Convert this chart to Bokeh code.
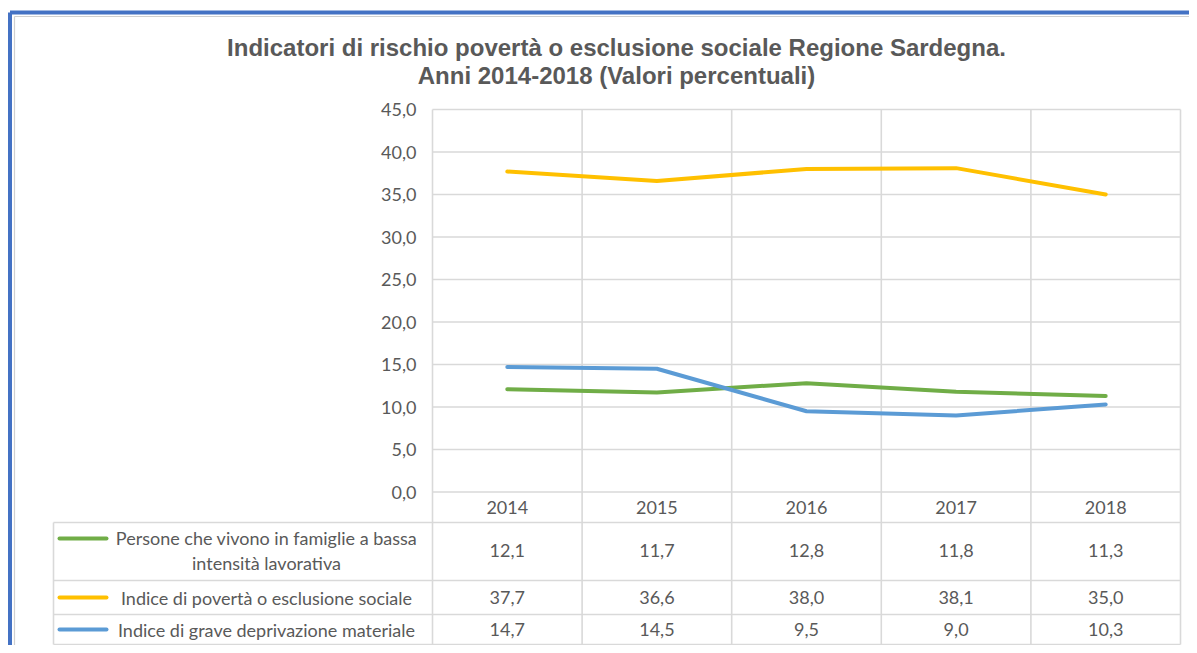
from bokeh.plotting import figure
from bokeh.models import Range1d
from bokeh.core.properties import value
from bokeh.embed import file_html
from bokeh.resources import INLINE

# ---------------- data ----------------
years = ["2014", "2015", "2016", "2017", "2018"]
series_names = [
    "Persone che vivono in famiglie a bassa\nintensità lavorativa",
    "Indice di povertà o esclusione sociale",
    "Indice di grave deprivazione materiale",
]
persone_bassa_intensita = [12.1, 11.7, 12.8, 11.8, 11.3]
indice_poverta_esclusione = [37.7, 36.6, 38.0, 38.1, 35.0]
indice_grave_deprivazione = [14.7, 14.5, 9.5, 9.0, 10.3]
y_ticks = [0, 5, 10, 15, 20, 25, 30, 35, 40, 45]
title_lines = [
    "Indicatori di rischio povertà o esclusione sociale Regione Sardegna.",
    "Anni 2014-2018 (Valori percentuali)",
]

series_values = [persone_bassa_intensita, indice_poverta_esclusione, indice_grave_deprivazione]
series_colors = ["#70AD47", "#FFC000", "#5B9BD5"]

# ---------------- layout (canvas px -> data units) ----------------
PL = 432.0      # left edge of plot area (px)
CW = 149.6      # category column width (px)
Y0 = 491.5      # y of value 0 (px)
U = 8.5         # px per percentage point


def dx(sx):
    return (sx - PL) / CW


def dy(sy):
    return (Y0 - sy) / U


W, H = 1189, 645
p = figure(width=W, height=H, output_backend="svg", toolbar_location=None,
           x_axis_type=None, y_axis_type=None,
           x_range=Range1d(dx(0), dx(W)), y_range=Range1d(dy(H), dy(0)),
           min_border=0, outline_line_color=None,
           background_fill_color="white", border_fill_color="white")
p.xgrid.visible = False
p.ygrid.visible = False

GRID = "#D9D9D9"
TXT = "#595959"
FONT = value("Lato")
n = len(years)
xc = [i + 0.5 for i in range(n)]

# outer frame (blue) and inner thin border
p.segment(x0=[dx(9.5), dx(9.5)], y0=[dy(12), dy(12)], x1=[dx(9.5), dx(1220)], y1=[dy(680), dy(12)],
          line_color="#4472C4", line_width=4)
p.segment(x0=[dx(14), dx(14)], y0=[dy(16), dy(16)], x1=[dx(14), dx(1220)], y1=[dy(680), dy(16)],
          line_color="#D0D0D0", line_width=1.2)

# horizontal gridlines at ticks
p.segment(x0=[0] * len(y_ticks), y0=y_ticks, x1=[n] * len(y_ticks), y1=y_ticks,
          line_color=GRID, line_width=1.6)

# table row boundaries (px)
row_lines = [522, 580, 614, 644]
p.segment(x0=[dx(53)] * len(row_lines), y0=[dy(r) for r in row_lines],
          x1=[n] * len(row_lines), y1=[dy(r) for r in row_lines],
          line_color=GRID, line_width=1.6)
# vertical lines (category boundaries through chart and table)
p.segment(x0=list(range(n + 1)), y0=[dy(644)] * (n + 1), x1=list(range(n + 1)), y1=[y_ticks[-1]] * (n + 1),
          line_color=GRID, line_width=1.6)
p.segment(x0=[dx(53)], y0=[dy(522)], x1=[dx(53)], y1=[dy(644)], line_color=GRID, line_width=1.6)

# series lines
for vals, col in zip(series_values, series_colors):
    p.line(xc, vals, line_color=col, line_width=4, line_cap="round", line_join="round")

# y tick labels
p.text(x=[dx(416)] * len(y_ticks), y=y_ticks,
       text=[f"{t:.1f}".replace(".", ",") for t in y_ticks],
       text_align="right", text_baseline="middle", text_font=FONT,
       text_font_size="18px", text_color=TXT)

# header row: years
p.text(x=xc, y=[dy(507)] * n, text=years, text_align="center", text_baseline="middle",
       text_font=FONT, text_font_size="18px", text_color=TXT)

# data rows
row_centers = [550, 597, 629]
key_y = [538, 597, 629]
for vals, rc in zip(series_values, row_centers):
    p.text(x=xc, y=[dy(rc)] * n, text=[f"{v:.1f}".replace(".", ",") for v in vals],
           text_align="center", text_baseline="middle", text_font=FONT,
           text_font_size="18px", text_color=TXT)

# legend keys and series names
p.segment(x0=[dx(59)] * 3, y0=[dy(k) for k in key_y], x1=[dx(106)] * 3, y1=[dy(k) for k in key_y],
          line_color=series_colors, line_width=4, line_cap="round")
p.text(x=[dx(266)] * 3, y=[dy(rc) for rc in row_centers], text=series_names,
       text_align="center", text_baseline="middle", text_font=FONT,
       text_font_size="18px", text_color=TXT, text_line_height=1.15)

# title
p.text(x=[dx(616), dx(616)], y=[dy(47), dy(75)], text=title_lines,
       text_align="center", text_baseline="middle", text_font=value("Liberation Sans"),
       text_font_style="bold", text_font_size="24px", text_color=TXT)

open("out.html", "w").write(file_html(p, INLINE))
